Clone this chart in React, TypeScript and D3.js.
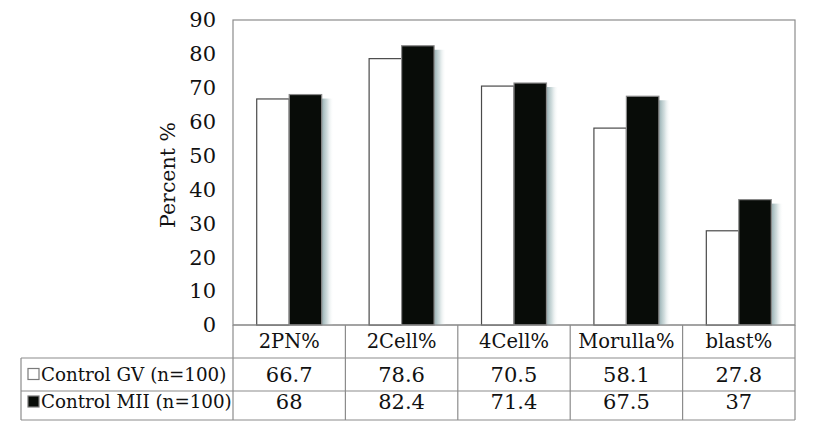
import React from "react";
import * as d3 from "d3";

const categories = ["2PN%", "2Cell%", "4Cell%", "Morulla%", "blast%"];
const seriesNames = ["Control GV (n=100)", "Control MII (n=100)"];
const gvValues = [66.7, 78.6, 70.5, 58.1, 27.8];
const miiValues = [68, 82.4, 71.4, 67.5, 37];
const yTicks = [0, 10, 20, 30, 40, 50, 60, 70, 80, 90];

const W = 816;
const H = 432;
const plotLeft = 233;
const plotRight = 795;
const plotTop = 20;
const plotBottom = 325;
const tableLeft = 21;
const rowLines = [325, 358, 391, 420];
const FONT = "'DejaVu Serif', serif";

export default function App() {
  const x = d3.scaleBand<string>().domain(categories).range([plotLeft, plotRight]).paddingInner(0).paddingOuter(0);
  const x1 = d3.scaleBand<string>().domain(["gv", "mii"]).range([0, x.bandwidth()]).paddingInner(0).paddingOuter(0.73);
  const y = d3.scaleLinear().domain([0, 90]).range([plotBottom, plotTop]);
  const series = [
    { key: "gv", values: gvValues, fill: "#ffffff", stroke: "#4a4a4a", name: seriesNames[0] },
    { key: "mii", values: miiValues, fill: "#080c08", stroke: "#8a8a8a", name: seriesNames[1] },
  ];
  const bw = x1.bandwidth();
  return (
    <svg width={W} height={H} style={{ position: "absolute", left: 0, top: 0, background: "#fff" }}>
      <defs>
        <linearGradient id="shadow" x1="0" x2="1" y1="0" y2="0">
          <stop offset="0" stopColor="#94adb0" stopOpacity="1" />
          <stop offset="0.45" stopColor="#c2d2d3" stopOpacity="0.75" />
          <stop offset="1" stopColor="#ffffff" stopOpacity="0" />
        </linearGradient>
        <linearGradient id="shadowLight" x1="0" x2="1" y1="0" y2="0">
          <stop offset="0" stopColor="#e3ebeb" stopOpacity="0.9" />
          <stop offset="1" stopColor="#ffffff" stopOpacity="0" />
        </linearGradient>
      </defs>
      <rect x={plotLeft} y={plotTop} width={plotRight - plotLeft} height={plotBottom - plotTop} fill="none" stroke="#8c8c8c" strokeWidth={1.2} />
      {yTicks.map((t) => (
        <text key={t} x={216} y={y(t)} dy="0.35em" textAnchor="end" fontFamily={FONT} fontSize={21} fill="#111">
          {t}
        </text>
      ))}
      <text transform={`translate(175,${175}) rotate(-90)`} textAnchor="middle" fontFamily={FONT} fontSize={20.5} fill="#111">
        Percent %
      </text>
      {categories.map((c, i) => (
        <g key={c} transform={`translate(${x(c)},0)`}>
          {series.map((s) => {
            const bx = x1(s.key)!;
            const top = y(s.values[i]);
            return (
              <rect key={s.key} x={bx + bw} y={top + 4} width={12} height={plotBottom - top - 4} fill={s.key === "mii" ? "url(#shadow)" : "url(#shadowLight)"} />
            );
          })}
          {series.map((s) => {
            const bx = x1(s.key)!;
            const top = y(s.values[i]);
            return (
              <rect key={s.key} x={bx} y={top} width={bw} height={plotBottom - top} fill={s.fill} stroke={s.stroke} strokeWidth={1.2} />
            );
          })}
        </g>
      ))}
      <g stroke="#8c8c8c" strokeWidth={1.2} fill="none">
        <line x1={plotLeft} x2={plotRight} y1={rowLines[0]} y2={rowLines[0]} />
        <line x1={tableLeft} x2={plotRight} y1={rowLines[1]} y2={rowLines[1]} />
        <line x1={tableLeft} x2={plotRight} y1={rowLines[2]} y2={rowLines[2]} />
        <line x1={tableLeft} x2={plotRight} y1={rowLines[3]} y2={rowLines[3]} />
        <line x1={tableLeft} x2={tableLeft} y1={rowLines[1]} y2={rowLines[3]} />
        {categories.map((c) => (
          <line key={c} x1={x(c)!} x2={x(c)!} y1={rowLines[0]} y2={rowLines[3]} />
        ))}
        <line x1={plotRight} x2={plotRight} y1={rowLines[0]} y2={rowLines[3]} />
      </g>
      {categories.map((c) => (
        <text key={c} x={x(c)! + x.bandwidth() / 2} y={341} dy="0.35em" textAnchor="middle" fontFamily={FONT} fontSize={19.5} fill="#111">
          {c}
        </text>
      ))}
      {series.map((s, r) => {
        const cy = r === 0 ? 374.5 : 402;
        return (
          <g key={s.key}>
            <rect x={28} y={cy - 6} width={11} height={11} fill={s.key === "gv" ? "#fff" : "#080c08"} stroke="#7a7a7a" strokeWidth={1.2} />
            <text x={41} y={cy} dy="0.35em" fontFamily={FONT} fontSize={18.3} fill="#111">
              {s.name}
            </text>
            {categories.map((c, i) => (
              <text key={c} x={x(c)! + x.bandwidth() / 2} y={cy} dy="0.35em" textAnchor="middle" fontFamily={FONT} fontSize={21} fill="#111">
                {s.values[i]}
              </text>
            ))}
          </g>
        );
      })}
    </svg>
  );
}
